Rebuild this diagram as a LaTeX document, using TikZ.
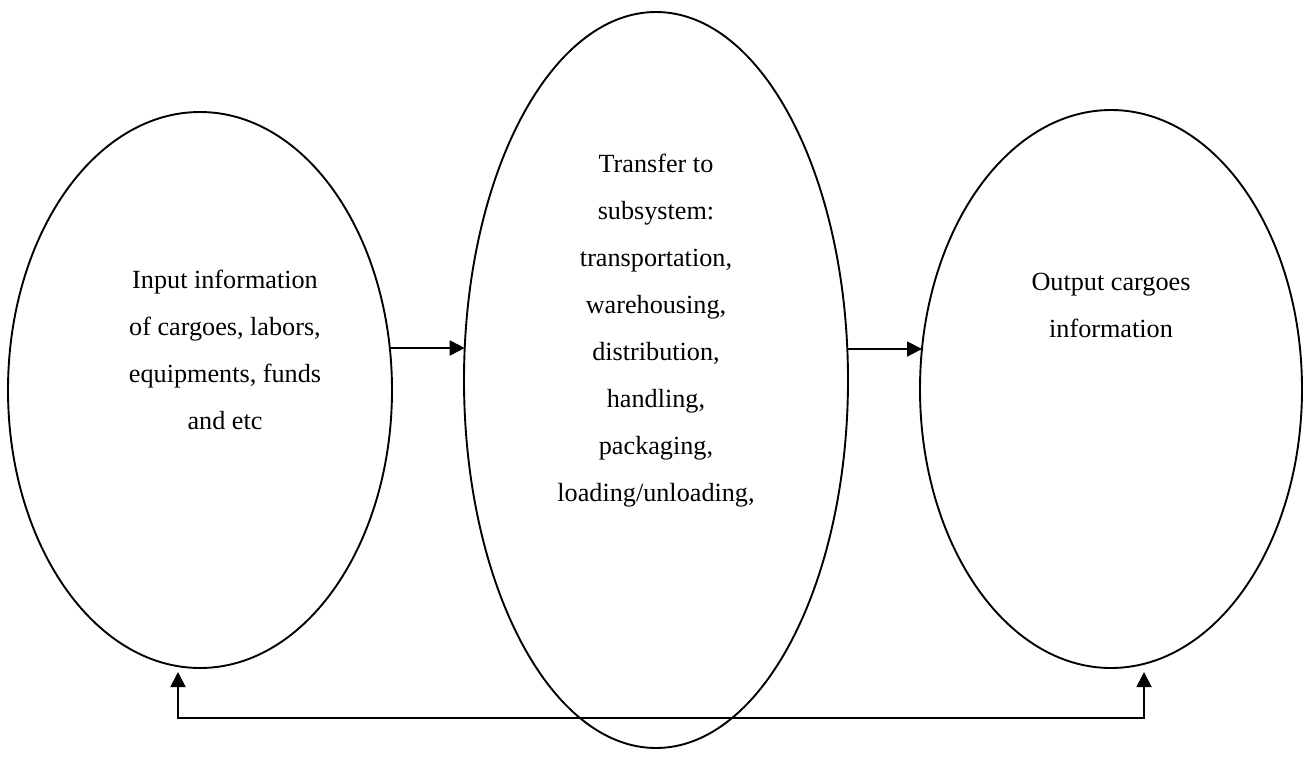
\documentclass[tikz,border=0pt]{standalone}
\usepackage{fontspec}
\setmainfont{Liberation Serif}
\usetikzlibrary{shapes.geometric,arrows.meta,calc}
\begin{document}
\begin{tikzpicture}[x=1pt,y=-1pt,
  oval/.style={draw,ellipse,line width=1.9pt,inner sep=0pt},
  lbl/.style={align=center,font=\fontsize{26.2}{47}\selectfont,inner sep=0pt},
  arr/.style={line width=1.9pt,-{Triangle[length=15pt,width=15pt]}},
  arr2/.style={line width=1.9pt,{Triangle[length=15pt,width=15pt]}-{Triangle[length=15pt,width=15pt]}}]
\useasboundingbox (0,0) rectangle (1310,780);
\node[oval,minimum width=384pt,minimum height=556pt] (L) at (200,390) {};
\node[oval,minimum width=384pt,minimum height=736pt] (M) at (656,380) {};
\node[oval,minimum width=382pt,minimum height=558pt] (R) at (1111,389) {};
\node[lbl] (Lt) at (225,350) {Input information\\of cargoes, labors,\\equipments, funds\\and etc};
\node[lbl] (Mt) at (656,331) {Transfer to\\subsystem:\\transportation,\\warehousing,\\distribution,\\handling,\\packaging,\\loading/unloading,};
\node[lbl] (Rt) at (1111,305) {Output cargoes\\information};
\draw[arr] ($(L.center)+(190,-42)$) -- ($(M.center)+(-191.3,-32)$);
\draw[arr] ($(M.center)+(191.3,-31)$) -- ($(R.center)+(-189,-40)$);
\coordinate (t1) at (178,672);
\coordinate (t2) at (1144,672);
\coordinate (c1) at (178,718);
\coordinate (c2) at (1144,718);
\draw[arr2] (t1) -- (c1) -- (c2) -- (t2);
\end{tikzpicture}
\end{document}
